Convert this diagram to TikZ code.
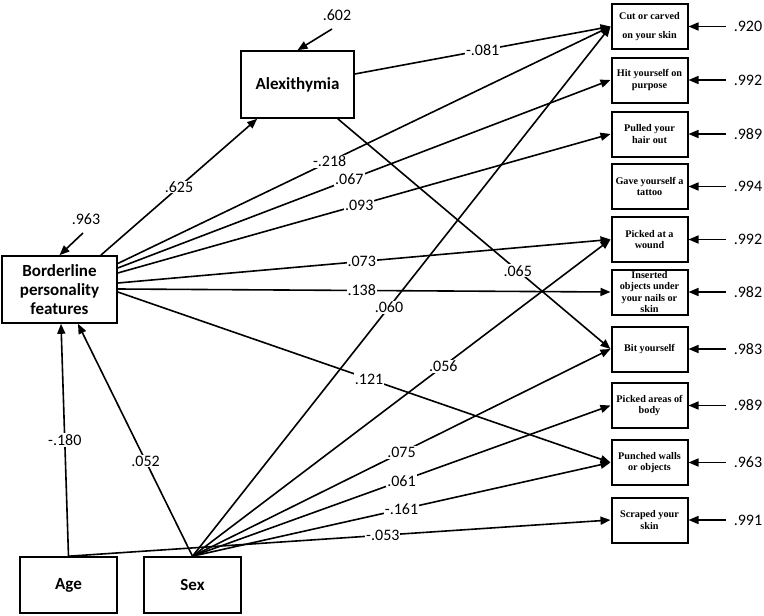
\documentclass[tikz,border=0pt]{standalone}
\usepackage{fontspec}
\setmainfont{Carlito}
\newfontfamily\itemfont{Liberation Serif}
\usetikzlibrary{arrows.meta}

\begin{document}
\begin{tikzpicture}[x=1pt,y=-1pt,
  latent/.style={draw, line width=1.6pt, align=center, font=\fontsize{17}{19}\selectfont\bfseries},
  item/.style={draw, line width=2pt, minimum width=76pt, minimum height=45pt, inner sep=0pt, align=center, font=\itemfont\bfseries\fontsize{10.2}{11.5}\selectfont},
  arr/.style={-{Triangle[length=10pt,width=8pt]}, line width=1.6pt},
  coef/.style={fill=white, inner sep=1pt, font=\fontsize{16}{16}\selectfont},
  resid/.style={inner sep=2pt, font=\fontsize{16}{16}\selectfont}]
\useasboundingbox (0,0) rectangle (764,616);
\node[latent, minimum width=113pt, minimum height=67pt] (alex) at (297.5,84.5) {Alexithymia};
\node[latent, minimum width=115pt, minimum height=67pt] (bpf) at (59.5,289.5) {Borderline\\personality\\features};
\node[latent, minimum width=97pt, minimum height=56pt] (age) at (68.5,585) {Age};
\node[latent, minimum width=97pt, minimum height=56pt] (sex) at (192.5,585) {Sex};
\node[item] (cut) at (649.5,26.5) {Cut or carved\\[7pt]on your skin};
\node[item] (hit) at (649.5,80) {Hit yourself on\\purpose};
\node[item] (hair) at (649.5,134) {Pulled your\\hair out};
\node[item] (tattoo) at (649.5,186.5) {Gave yourself a\\tattoo};
\node[item] (wound) at (649.5,239.5) {Picked at a\\wound};
\node[item] (nails) at (649.5,292) {Inserted\\objects under\\your nails or\\skin};
\node[item] (bit) at (649.5,349) {Bit yourself};
\node[item] (areas) at (649.5,405.5) {Picked areas of\\body};
\node[item] (punch) at (649.5,462.5) {Punched walls\\or objects};
\node[item] (scrape) at (649.5,520) {Scraped your\\skin};
\node[resid] (ralex) at (337,15) {.602};
\node[resid] (rbpf) at (86,219) {.963};
\node[resid] (r1) at (748,26.5) {.920};
\node[resid] (r2) at (748,80) {.992};
\node[resid] (r3) at (748,134) {.989};
\node[resid] (r4) at (748,186.5) {.994};
\node[resid] (r5) at (748,239.5) {.992};
\node[resid] (r6) at (748,292) {.982};
\node[resid] (r7) at (748,349) {.983};
\node[resid] (r8) at (748,405.5) {.989};
\node[resid] (r9) at (748,462.5) {.963};
\node[resid] (r10) at (748,520) {.991};
\coordinate (ealex) at (332,29);
\coordinate (ebpf) at (83,233);
\draw[arr] (ealex) -- (alex.north);
\draw[arr] (ebpf) -- (bpf.north);
\draw[arr] ([xshift=-6pt]r1.west) -- (cut.east);
\draw[arr] ([xshift=-6pt]r2.west) -- (hit.east);
\draw[arr] ([xshift=-6pt]r3.west) -- (hair.east);
\draw[arr] ([xshift=-6pt]r4.west) -- (tattoo.east);
\draw[arr] ([xshift=-6pt]r5.west) -- (wound.east);
\draw[arr] ([xshift=-6pt]r6.west) -- (nails.east);
\draw[arr] ([xshift=-6pt]r7.west) -- (bit.east);
\draw[arr] ([xshift=-6pt]r8.west) -- (areas.east);
\draw[arr] ([xshift=-6pt]r9.west) -- (punch.east);
\draw[arr] ([xshift=-6pt]r10.west) -- (scrape.east);
\draw[arr] ([xshift=-17pt]bpf.north east) -- node[coef] {.625} ([xshift=17pt]alex.south west);
\draw[arr] ([yshift=10.5pt]alex.east) -- node[coef] {-.081} (cut.west);
\draw[arr] ([xshift=-17pt]alex.south east) -- node[coef, pos=0.66] {.065} (bit.west);
\draw[arr] ([yshift=26pt]bpf.east) -- node[coef, pos=0.43] {-.218} (cut.west);
\draw[arr] ([yshift=21.5pt]bpf.east) -- node[coef, pos=0.47] {.067} (hit.west);
\draw[arr] ([yshift=16.5pt]bpf.east) -- node[coef, pos=0.49] {.093} (hair.west);
\draw[arr] ([yshift=6.5pt]bpf.east) -- node[coef, pos=0.495] {.073} (wound.west);
\draw[arr] ([yshift=0.5pt]bpf.east) -- node[coef, pos=0.495] {.138} (nails.west);
\draw[arr] ([yshift=-2.5pt]bpf.east) -- node[coef, pos=0.51] {.121} (punch.west);
\draw[arr] (age.north) -- node[coef] {-.180} ([xshift=1.5pt]bpf.south);
\draw[arr] (sex.north) -- node[coef, pos=0.41] {.052} ([xshift=18.5pt]bpf.south);
\draw[arr] (sex.north) -- node[coef, pos=0.47] {.060} (cut.west);
\draw[arr] (sex.north) -- node[coef, pos=0.6] {.056} (wound.west);
\draw[arr] (sex.north) -- node[coef] {.075} (bit.west);
\draw[arr] (sex.north) -- node[coef] {.061} (areas.west);
\draw[arr] (sex.north) -- node[coef] {-.161} (punch.west);
\draw[arr] (age.north) -- node[coef, pos=0.58] {-.053} (scrape.west);
\end{tikzpicture}
\end{document}
